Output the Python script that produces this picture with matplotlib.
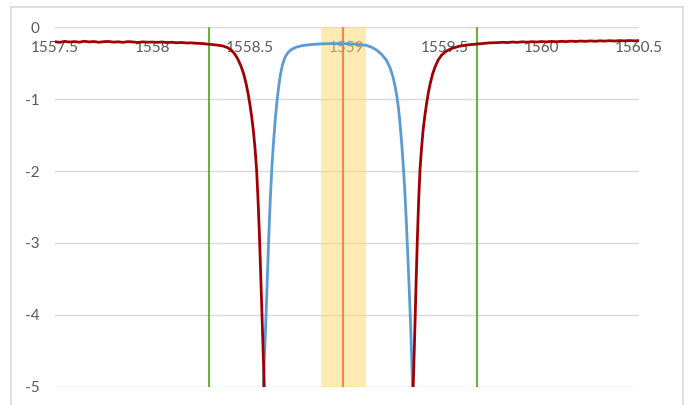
import matplotlib
matplotlib.use("Agg")
import matplotlib.pyplot as plt
from matplotlib.lines import Line2D

# through port (dark red), wavelength in nm, power in dB
thru_x = [1557.500, 1557.525, 1557.550, 1557.575, 1557.600, 1557.625, 1557.650, 1557.675,
          1557.700, 1557.725, 1557.750, 1557.775, 1557.800, 1557.825, 1557.850, 1557.875,
          1557.900, 1557.925, 1557.950, 1557.975, 1558.000, 1558.025, 1558.050, 1558.075,
          1558.100, 1558.125, 1558.150, 1558.175, 1558.200, 1558.225, 1558.250, 1558.270,
          1558.290, 1558.330, 1558.360, 1558.385, 1558.405, 1558.422, 1558.438, 1558.455,
          1558.469, 1558.482, 1558.493, 1558.502, 1558.511, 1558.519, 1558.528, 1558.536,
          1558.543, 1558.550, 1558.556, 1558.562, 1558.568, 1558.575, 1558.580,
          1559.334, 1559.340, 1559.346, 1559.351, 1559.356, 1559.361, 1559.368, 1559.375,
          1559.383, 1559.391, 1559.400, 1559.409, 1559.418, 1559.428, 1559.440, 1559.453,
          1559.468, 1559.486, 1559.510, 1559.538, 1559.575, 1559.615, 1559.670, 1559.735,
          1559.775, 1559.800, 1559.825, 1559.850, 1559.875, 1559.900, 1559.925, 1559.950,
          1559.975, 1560.000, 1560.025, 1560.050, 1560.075, 1560.100, 1560.125, 1560.150,
          1560.175, 1560.200, 1560.225, 1560.250, 1560.275, 1560.300, 1560.325, 1560.350,
          1560.375, 1560.400, 1560.425, 1560.450, 1560.475, 1560.500]
thru_y = [-0.205, -0.213, -0.200, -0.209, -0.203, -0.211, -0.198, -0.207, -0.202, -0.212,
          -0.204, -0.201, -0.210, -0.206, -0.213, -0.203, -0.208, -0.215, -0.207, -0.211,
          -0.209, -0.214, -0.208, -0.216, -0.212, -0.219, -0.215, -0.222, -0.220, -0.226,
          -0.229, -0.233, -0.240, -0.250, -0.262, -0.285, -0.320, -0.370, -0.440, -0.540,
          -0.650, -0.790, -0.940, -1.090, -1.260, -1.440, -1.700, -2.000, -2.400, -2.880,
          -3.380, -3.880, -4.400, -5.000, -5.500,
          -5.500, -5.000, -4.450, -3.950, -3.450, -2.980, -2.420, -1.980, -1.680, -1.430,
          -1.230, -1.060, -0.910, -0.780, -0.650, -0.550, -0.460, -0.390, -0.335, -0.298,
          -0.268, -0.250, -0.236, -0.220, -0.217, -0.212, -0.216, -0.209, -0.213, -0.206,
          -0.211, -0.204, -0.209, -0.202, -0.207, -0.200, -0.205, -0.199, -0.203, -0.196,
          -0.201, -0.195, -0.199, -0.193, -0.198, -0.192, -0.196, -0.190, -0.195, -0.189,
          -0.193, -0.188, -0.192, -0.190]

# drop port (blue)
drop_x = [1558.566, 1558.570, 1558.577, 1558.584, 1558.590, 1558.597, 1558.605, 1558.613,
          1558.622, 1558.631, 1558.640, 1558.649, 1558.658, 1558.669, 1558.682, 1558.698,
          1558.716, 1558.740, 1558.767, 1558.810, 1558.853, 1558.900, 1558.950, 1559.000,
          1559.050, 1559.100, 1559.125, 1559.152, 1559.178, 1559.202, 1559.220, 1559.235,
          1559.246, 1559.256, 1559.265, 1559.273, 1559.281, 1559.289, 1559.297, 1559.305,
          1559.312, 1559.319, 1559.325, 1559.331, 1559.337, 1559.341]
drop_y = [-5.500, -5.000, -4.500, -4.020, -3.550, -3.000, -2.450, -2.000,
          -1.620, -1.300, -1.040, -0.830, -0.660, -0.520, -0.420, -0.350,
          -0.310, -0.280, -0.260, -0.245, -0.236, -0.232, -0.230, -0.232,
          -0.240, -0.255, -0.280, -0.320, -0.380, -0.460, -0.560, -0.680,
          -0.810, -0.960, -1.140, -1.360, -1.620, -1.920, -2.280, -2.720,
          -3.150, -3.600, -4.020, -4.500, -5.000, -5.500]

# markers
edge_lines = [1558.29, 1559.67]
center_line = 1558.98
band = (1558.865, 1559.10)

x_ticks = [1557.5, 1558, 1558.5, 1559, 1559.5, 1560, 1560.5]
x_labels = ["1557.5", "1558", "1558.5", "1559", "1559.5", "1560", "1560.5"]
y_ticks = [0, -1, -2, -3, -4, -5]

plt.rcParams['font.family'] = ['Lato', 'DejaVu Sans']

fig = plt.figure(figsize=(6.89, 4.05), dpi=100)
ax = fig.add_axes([55 / 689, 1 - 387 / 405, 584 / 689, 360 / 405])

# outer chart border (bottom is cut off in the original)
bc = "#D9D9D9"
fx0, fx1, fy1 = 11 / 689, 683 / 689, 1 - 7 / 405
fig.add_artist(Line2D([fx0, fx0], [0, fy1], color=bc, lw=1.2))
fig.add_artist(Line2D([fx0, fx1], [fy1, fy1], color=bc, lw=1.2))
fig.add_artist(Line2D([fx1, fx1], [0, fy1], color=bc, lw=1.2))

ax.set_xlim(1557.5, 1560.5)
ax.set_ylim(-5, 0)

for y in y_ticks:
    ax.axhline(y, color="#D9D9D9", lw=1.0, zorder=1)

ax.axvspan(band[0], band[1], color="#FFD966", alpha=0.5, lw=0, zorder=3)
ax.axvline(center_line, color="#F4743B", lw=1.2, zorder=4)
for xv in edge_lines:
    ax.axvline(xv, color="#70AD47", lw=1.5, zorder=4)

ax.plot(drop_x, drop_y, color="#5B9BD5", lw=2.0, zorder=5)
ax.plot(thru_x, thru_y, color="#A00000", lw=2.0, zorder=6)

for s in ax.spines.values():
    s.set_visible(False)
ax.spines['bottom'].set_position(('data', 0))

ax.set_xticks(x_ticks)
ax.set_xticklabels(x_labels)
ax.set_yticks(y_ticks)
ax.set_yticklabels([str(v) for v in y_ticks])
ax.tick_params(axis='x', length=0, pad=10, labelsize=11, colors="#595959")
ax.tick_params(axis='y', length=0, pad=11, labelsize=11, colors="#595959")
ax.xaxis.set_zorder(2.5)

fig.savefig("out.png", dpi=100)
